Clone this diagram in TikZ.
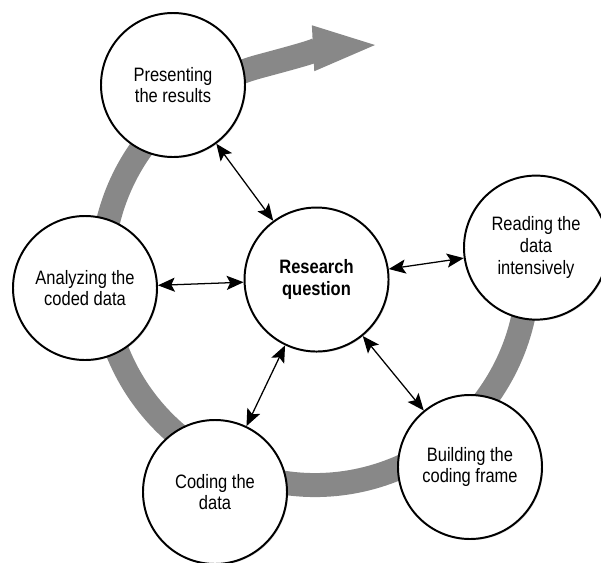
\documentclass[tikz,border=0pt]{standalone}
\usepackage{fontspec}
\setmainfont{Liberation Sans}[FakeStretch=0.85]
\usepackage{tikz}
\usetikzlibrary{arrows.meta, shadows}

\definecolor{ringgray}{RGB}{136,136,136}

\begin{document}
\begin{tikzpicture}[<->,>={Stealth[length=12pt,width=10pt,inset=2.5pt]},line width=0.9pt,
    every node/.style={font=\fontsize{13.8pt}{15.5pt}\selectfont, align=center}]

  \tikzset{stage/.style={circle, draw, line width=1.4pt, fill=white, minimum size=3.6cm, inner sep=0pt,
                         drop shadow={shadow xshift=0.8pt, shadow yshift=-0.8pt, opacity=0.3}}}

  \useasboundingbox (0,0) rectangle (15.025,-14.075);

  % the cycle behind the circles
  \coordinate (hub) at (7.875,-6.8);
  \coordinate (tip) at (9.375,-1.125);
  \draw[-{Triangle[length=1.55cm,width=1.15cm,line width=0pt]}, ringgray, line width=0.6cm]
     ([shift={(20:5.325)}]hub) arc[start angle=20, end angle=-255, radius=5.325]
     to[out=15, in=183] (tip);

  \node[stage] (pres) at (4.325,-2.125) {Presenting\\the results};
  \node[stage] (rq) at (7.913,-6.988) {\textbf{Research}\\\textbf{question}};
  \node[stage] (read) at (13.4,-6.19) {Reading the\\data\\intensively};
  \node[stage] (anal) at (2.125,-7.2) {Analyzing the\\coded data};
  \node[stage] (cod) at (5.375,-12.3) {Coding the\\data};
  \node[stage] (build) at (11.75,-11.675) {Building the\\coding frame};

  \path (rq) edge (pres);
  \path (rq) edge (anal);
  \path (rq) edge (read);
  \path (rq) edge (cod);
  \path (rq) edge (build);
\end{tikzpicture}
\end{document}
